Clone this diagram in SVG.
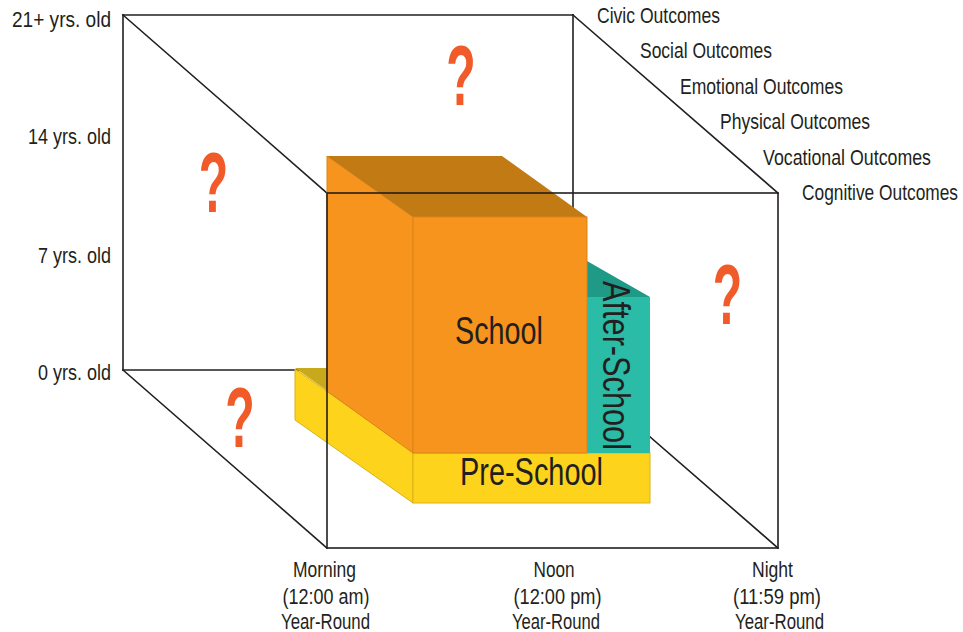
<svg xmlns="http://www.w3.org/2000/svg" width="963" height="632" viewBox="0 0 963 632">
<style>
.ln{stroke:#231f20;stroke-width:1.6;fill:none;stroke-linecap:square}
.t{font-family:"Liberation Sans",Arial,sans-serif;fill:#231f20}
.lab{font-size:22px}
.ax{font-size:22px;text-anchor:middle}
.big{font-size:38px}
.q{font-family:"Liberation Sans",Arial,sans-serif;font-weight:bold;font-size:86px;fill:#f15a29;text-anchor:middle}
</style>
<rect width="963" height="632" fill="#ffffff"/>
<g id="connectors">
<line class="ln" x1="123" y1="15" x2="573" y2="15"/>
<line class="ln" x1="123" y1="15" x2="123" y2="370"/>
<line class="ln" x1="123" y1="370" x2="573" y2="370"/>
<line class="ln" x1="573" y1="15" x2="573" y2="370"/>
<line class="ln" x1="123" y1="15" x2="327" y2="193"/>
<line class="ln" x1="573" y1="15" x2="778" y2="193"/>
<line class="ln" x1="123" y1="370" x2="327" y2="548"/>
<line class="ln" x1="573" y1="370" x2="778" y2="548"/>
</g>
<g id="pre-school">
<polygon points="295,368 532,368 650,452 413,452" fill="#c9a91c"/>
<polygon points="295,369 413,452 413,503 295,420" fill="#fdd31c" stroke="#d8b21a" stroke-width="1"/>
<rect x="413" y="453" width="237" height="50" fill="#fdd31c" stroke="#d8b21a" stroke-width="1"/>
<text class="t big" x="531.5" y="485" text-anchor="middle" font-size="36" textLength="143" lengthAdjust="spacingAndGlyphs">Pre-School</text>
</g>
<g id="after-school">
<polygon points="587,261 650,297 587,297" fill="#1f9a86"/>
<rect x="587" y="297" width="63" height="156" fill="#2bbca8"/>
<text class="t big" transform="translate(603,281) rotate(90)" x="0" y="0" textLength="169" lengthAdjust="spacingAndGlyphs">After-School</text>
</g>
<g id="school">
<polygon points="327,156 413,217 413,453 327,391" fill="#f7941d" stroke="#dd8418" stroke-width="1"/>
<polygon points="327,156 502,156 587,217 413,217" fill="#c17a14"/>
<rect x="413" y="217" width="174" height="236" fill="#f7941d" stroke="#dd8418" stroke-width="1"/>
<text class="t big" x="499" y="344" text-anchor="middle" textLength="88" lengthAdjust="spacingAndGlyphs">School</text>
</g>
<g id="front-frame">
<rect class="ln" x="327" y="193" width="451" height="355"/>
</g>
<g id="question-marks">
<text class="q" transform="translate(461,105) scale(0.56,1)">?</text>
<text class="q" transform="translate(213.5,212) scale(0.56,1)">?</text>
<text class="q" transform="translate(727.5,324) scale(0.56,1)">?</text>
<text class="q" transform="translate(240,447) scale(0.56,1)">?</text>
</g>
<g id="age-labels" text-anchor="end">
<text class="t lab" x="111" y="27" textLength="99" lengthAdjust="spacingAndGlyphs">21+ yrs. old</text>
<text class="t lab" x="111" y="144" textLength="83" lengthAdjust="spacingAndGlyphs">14 yrs. old</text>
<text class="t lab" x="111" y="263" textLength="73" lengthAdjust="spacingAndGlyphs">7 yrs. old</text>
<text class="t lab" x="111" y="380" textLength="73" lengthAdjust="spacingAndGlyphs">0 yrs. old</text>
</g>
<g id="outcome-labels">
<text class="t lab" x="597" y="23" textLength="123" lengthAdjust="spacingAndGlyphs">Civic Outcomes</text>
<text class="t lab" x="640" y="58" textLength="132" lengthAdjust="spacingAndGlyphs">Social Outcomes</text>
<text class="t lab" x="680" y="94" textLength="163" lengthAdjust="spacingAndGlyphs">Emotional Outcomes</text>
<text class="t lab" x="720" y="129" textLength="150" lengthAdjust="spacingAndGlyphs">Physical Outcomes</text>
<text class="t lab" x="763" y="165" textLength="168" lengthAdjust="spacingAndGlyphs">Vocational Outcomes</text>
<text class="t lab" x="802" y="200" textLength="156" lengthAdjust="spacingAndGlyphs">Cognitive Outcomes</text>
</g>
<g id="time-labels">
<text class="t ax" x="324.5" y="577" textLength="63" lengthAdjust="spacingAndGlyphs">Morning</text>
<text class="t ax" x="326" y="604" textLength="87" lengthAdjust="spacingAndGlyphs">(12:00 am)</text>
<text class="t ax" x="325.5" y="629" textLength="89" lengthAdjust="spacingAndGlyphs">Year-Round</text>
<text class="t ax" x="554" y="577" textLength="41" lengthAdjust="spacingAndGlyphs">Noon</text>
<text class="t ax" x="557.5" y="604" textLength="88" lengthAdjust="spacingAndGlyphs">(12:00 pm)</text>
<text class="t ax" x="556" y="629" textLength="88" lengthAdjust="spacingAndGlyphs">Year-Round</text>
<text class="t ax" x="772.5" y="577" textLength="41" lengthAdjust="spacingAndGlyphs">Night</text>
<text class="t ax" x="777" y="604" textLength="88" lengthAdjust="spacingAndGlyphs">(11:59 pm)</text>
<text class="t ax" x="779.5" y="629" textLength="89" lengthAdjust="spacingAndGlyphs">Year-Round</text>
</g>
</svg>
